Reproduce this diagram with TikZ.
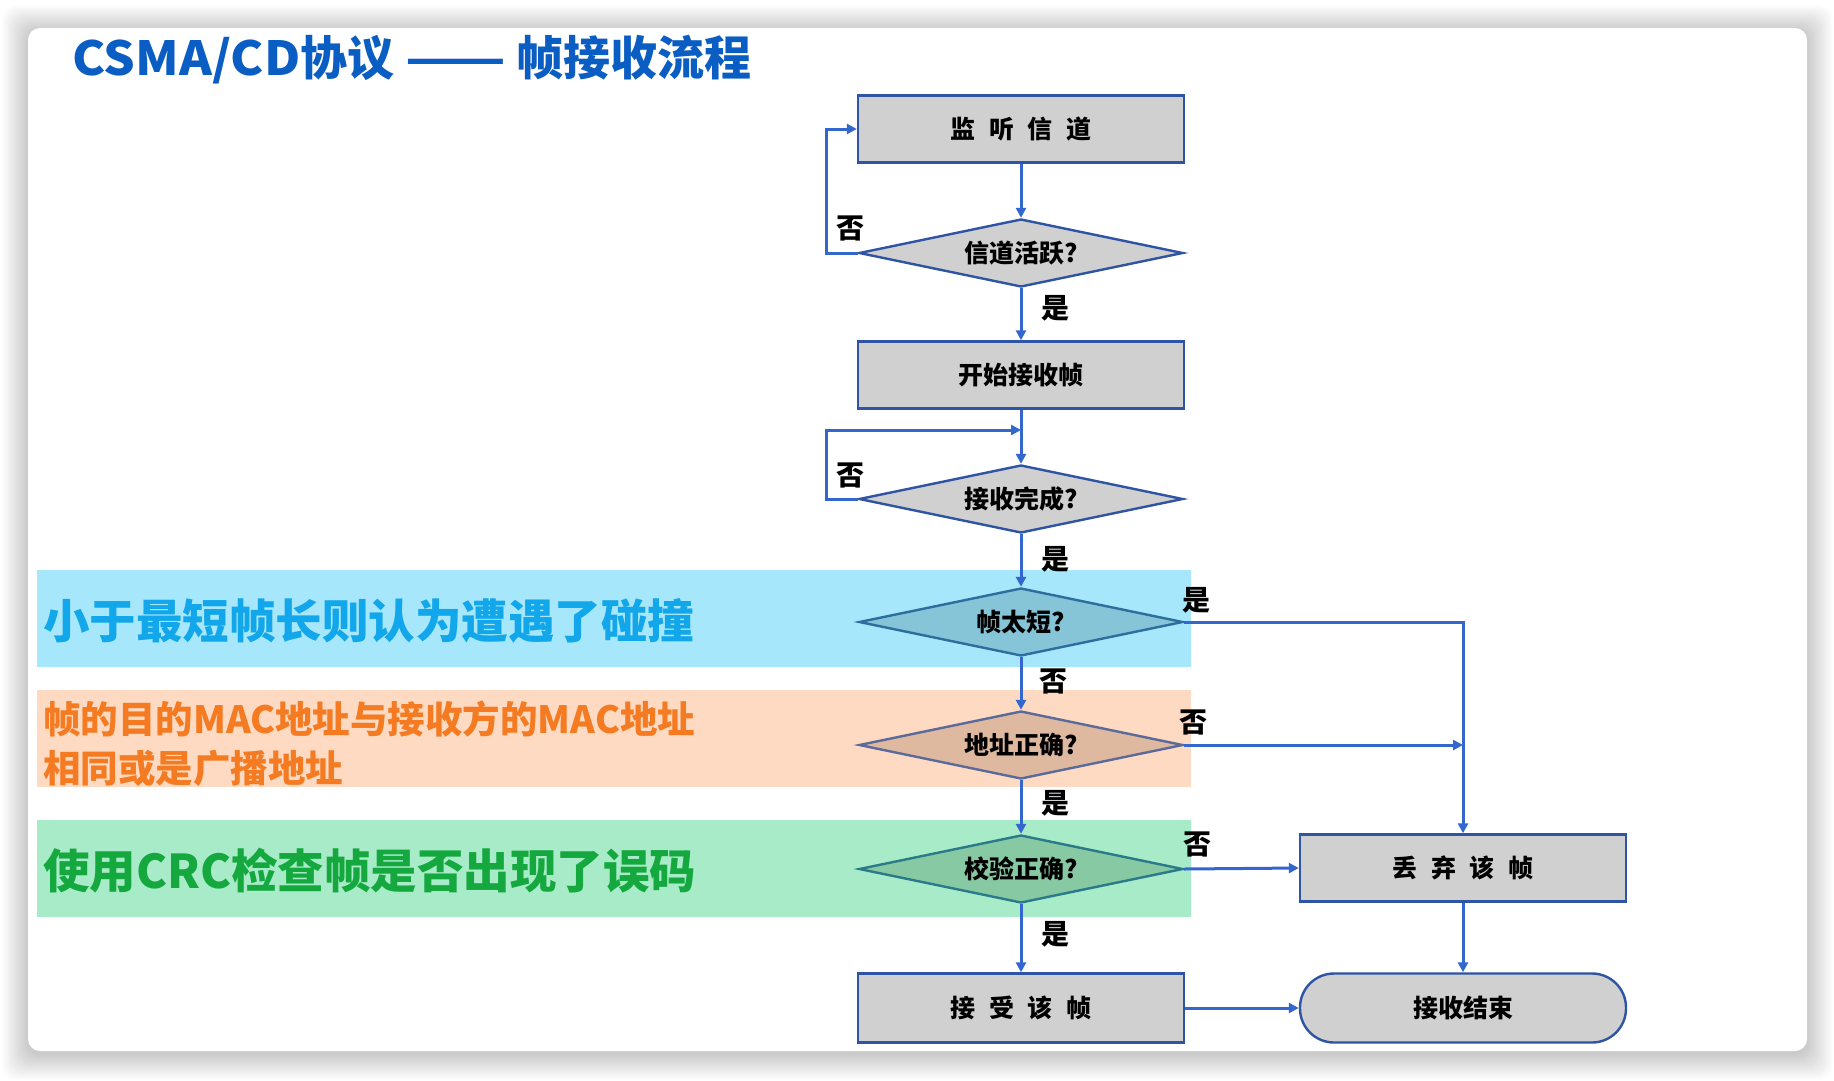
\documentclass[tikz,border=0pt]{standalone}
\usepackage{fontspec}
\setmainfont{Noto Sans CJK SC}
\usetikzlibrary{shapes.geometric,arrows.meta}
\definecolor{lineb}{HTML}{3466CF}
\definecolor{boxb}{HTML}{2E54A3}
\definecolor{boxf}{HTML}{D0D0D0}
\definecolor{titleb}{HTML}{0A5DC2}
\definecolor{cyanband}{HTML}{A6E7FB}
\definecolor{cyantext}{HTML}{12A6EA}
\definecolor{orband}{HTML}{FDDAC1}
\definecolor{ortext}{HTML}{F47B22}
\definecolor{grband}{HTML}{A8EBC8}
\definecolor{grtext}{HTML}{14A83F}
\definecolor{d3fill}{HTML}{86C4D8}
\definecolor{d3line}{HTML}{2E6E9E}
\definecolor{d4fill}{HTML}{DEB9A0}
\definecolor{d4line}{HTML}{5A6A9A}
\definecolor{d5fill}{HTML}{86C9A2}
\definecolor{d5line}{HTML}{2A7A8A}
\newcommand\fsz[1]{\fontsize{#1}{#1}\selectfont}
\tikzset{
  box/.style={draw=boxb, line width=2.4pt, fill=boxf, minimum width=326pt, minimum height=67pt, inner sep=0pt, font=\fsz{25}\bfseries},
  dia/.style={diamond, draw=boxb, line width=2.4pt, fill=boxf, minimum width=324pt, minimum height=68pt, inner sep=0pt, aspect=4.8, font=\fsz{25}\bfseries},
  conn/.style={draw=lineb, line width=3pt, -{Triangle[length=10pt,width=10pt]}},
  lab/.style={font=\fsz{28}\bfseries, inner sep=0pt},
  bandtext/.style={font=\fsz{46.5}\bfseries, anchor=west, inner sep=0pt}
}
\newcommand\chsp{\hspace{0.55em}}
\begin{document}
\begin{tikzpicture}[x=1pt,y=-1pt]
\useasboundingbox (0,0) rectangle (1834,1080);
\fill[white] (0,0) rectangle (1834,1080);
% card shadow
\foreach \i in {1,...,26}{
  \fill[black, opacity=0.0065, rounded corners=14pt] (28-\i,28-\i+3) rectangle (1807+\i,1051+\i+3);
}
\fill[white, rounded corners=12pt] (28,28) rectangle (1807,1051);
% title
\node[anchor=west, inner sep=0pt, text=titleb, font=\fsz{47}\bfseries] (title) at (72,60) {\scalebox{1.06}[1]{CSMA/CD}协议 \scalebox{1.25}[1]{——} 帧接收流程};
% bands
\fill[cyanband] (37,570) rectangle (1191,667);
\fill[orband] (37,690) rectangle (1191,787);
\fill[grband] (37,820) rectangle (1191,917);
\node[bandtext, text=cyantext] (t1) at (43,621) {小于最短帧长则认为遭遇了碰撞};
\node[anchor=west, inner sep=0pt, text=ortext, font=\fsz{37.5}\bfseries] (t2a) at (43,719) {帧的目的MAC地址与接收方的MAC地址};
\node[anchor=west, inner sep=0pt, text=ortext, font=\fsz{37.5}\bfseries] (t2b) at (43,768) {相同或是广播地址};
\node[bandtext, text=grtext] (t3) at (43,871) {使用CRC检查帧是否出现了误码};
% nodes
\node[box] (listen) at (1021,129) {监\chsp 听\chsp 信\chsp 道};
\node[dia] (active) at (1021,253) {信道活跃?};
\node[box] (start) at (1021,375) {开始接收帧};
\node[dia] (done) at (1021,499) {接收完成?};
\node[dia, fill=d3fill, draw=d3line] (short) at (1021,622) {帧太短?};
\node[dia, fill=d4fill, draw=d4line] (addr) at (1021,745) {地址正确?};
\node[dia, fill=d5fill, draw=d5line] (crc) at (1021,869) {校验正确?};
\node[box, minimum height=69pt] (accept) at (1021,1008) {接\chsp 受\chsp 该\chsp 帧};
\node[box] (discard) at (1463,868) {丢\chsp 弃\chsp 该\chsp 帧};
\node[box, minimum height=69pt, rounded corners=34pt] (finish) at (1463,1008) {接收结束};
\coordinate (l1) at (826,253);
\coordinate (l1b) at (826,129);
\coordinate (l2) at (826,499);
\coordinate (l2b) at (826,430);
\coordinate (l2c) at (1021,430);
\coordinate (r1) at (1463,622);
\coordinate (r2) at (1463,745);
% connectors
\draw[conn] (listen.south) -- (active.north);
\draw[conn] (active.south) -- (start.north);
\draw[conn] (active.west) -- (l1) -- (l1b) -- (listen.west);
\draw[conn] (start.south) -- (done.north);
\draw[conn] (done.west) -- (l2) -- (l2b) -- (l2c);
\draw[conn] (done.south) -- (short.north);
\draw[conn] (short.south) -- (addr.north);
\draw[conn] (addr.south) -- (crc.north);
\draw[conn] (crc.south) -- (accept.north);
\draw[conn] (short.east) -- (r1) -- (discard.north);
\draw[conn] (addr.east) -- (r2);
\draw[conn] (crc.east) -- (discard.west);
\draw[conn] (discard.south) -- (finish.north);
\draw[conn] (accept.east) -- (finish.west);
% labels
\node[lab] (y1) at (1055,308) {是};
\node[lab] (n1) at (850,228) {否};
\node[lab] (n2) at (850,475) {否};
\node[lab] (y2) at (1055,559) {是};
\node[lab] (n3) at (1053,681) {否};
\node[lab] (y3) at (1055,803) {是};
\node[lab] (y4) at (1055,934) {是};
\node[lab] (y5) at (1196,600) {是};
\node[lab] (n4) at (1193,722) {否};
\node[lab] (n5) at (1197,844) {否};
\end{tikzpicture}
\end{document}
